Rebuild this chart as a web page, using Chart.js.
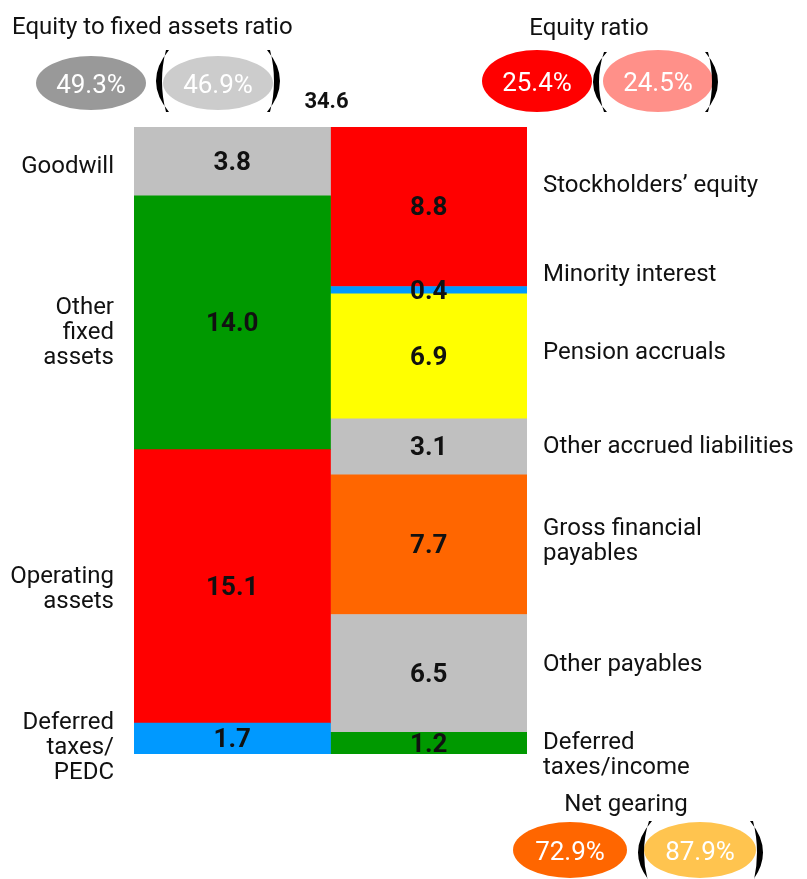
<!DOCTYPE html>
<html>
<head>
<meta charset="utf-8">
<script src="https://cdn.jsdelivr.net/npm/chart.js@4"></script>
<style>
html, body { margin: 0; padding: 0; background: #fff; }
#wrap { width: 807px; height: 879px; position: relative; }
</style>
</head>
<body>
<div id="wrap"><canvas id="myChart" width="807" height="879"></canvas></div>
<script>
// assets side, listed top to bottom
const assetLabels = [['Goodwill'], ['Other', 'fixed', 'assets'], ['Operating', 'assets'], ['Deferred', 'taxes/', 'PEDC']];
const assetValues = [3.8, 14.0, 15.1, 1.7];
const assetColors = ['#c0c0c0', '#009900', '#ff0000', '#0099ff'];

// equity & liabilities side, listed top to bottom
const liabLabels = [['Stockholders\u2019 equity'], ['Minority interest'], ['Pension accruals'], ['Other accrued liabilities'],
  ['Gross financial', 'payables'], ['Other payables'], ['Deferred', 'taxes/income']];
const liabValues = [8.8, 0.4, 6.9, 3.1, 7.7, 6.5, 1.2];
const liabColors = ['#ff0000', '#0099ff', '#ffff00', '#c0c0c0', '#ff6600', '#c0c0c0', '#009900'];

// label nudge in px from the segment centre
const assetLabelShift = [4, 8, 1, 7];
const liabLabelShift = [-23, -17, -5, -2, -5, -10, 10];

// ratios: this year and (last year)
const ratioTitles = ['Equity to fixed assets ratio', 'Equity ratio', 'Net gearing'];
const ratioNow = [49.3, 25.4, 72.9];
const ratioPrev = [46.9, 24.5, 87.9];

const total = assetValues.reduce((a, b) => a + b, 0);

const datasets = [];
for (let i = assetValues.length - 1; i >= 0; i--) {
  datasets.push({ label: assetLabels[i].join(' '), data: [assetValues[i], null], backgroundColor: assetColors[i], side: 0, idx: i });
}
for (let i = liabValues.length - 1; i >= 0; i--) {
  datasets.push({ label: liabLabels[i].join(' '), data: [null, liabValues[i]], backgroundColor: liabColors[i], side: 1, idx: i });
}

// where the ratio bubbles sit
const bubbles = [
  { title: [12, 28, 'left'], now: [91, 83, 55, 27], prev: [218, 83, 55, 27], open: [156, 169], close: [267, 280], py: [50, 112], col: ['#999999', '#cccccc'] },
  { title: [589, 29, 'center'], now: [537, 81, 55, 31], prev: [658, 81, 55, 31], open: [593, 607], close: [705, 718], py: [52, 112], col: ['#ff0000', '#ff9089'] },
  { title: [626, 805, 'center'], now: [570, 850, 57, 28], prev: [700, 850, 56, 28], open: [638, 652], close: [750, 763], py: [821, 884], col: ['#ff6600', '#ffc44f'] }
];

// text sits a bit low in the original
const dy = 2;

function paren(ctx, x0, x1, y0, y1, open) {
  const ym = (y0 + y1) / 2;
  const t = 6;
  ctx.beginPath();
  if (open) {
    ctx.moveTo(x1, y0);
    ctx.quadraticCurveTo(2 * x0 - x1, ym, x1, y1);
    ctx.lineTo(x1 - 3, y1);
    ctx.quadraticCurveTo(2 * (x0 + t) - (x1 - 3), ym, x1 - 3, y0);
  } else {
    ctx.moveTo(x0, y0);
    ctx.quadraticCurveTo(2 * x1 - x0, ym, x0, y1);
    ctx.lineTo(x0 + 3, y1);
    ctx.quadraticCurveTo(2 * (x1 - t) - (x0 + 3), ym, x0 + 3, y0);
  }
  ctx.closePath();
  ctx.fill();
}

const labelPlugin = {
  id: 'labels',
  afterDatasetsDraw(chart) {
    const ctx = chart.ctx;
    ctx.save();
    chart.data.datasets.forEach((ds, di) => {
      const bar = chart.getDatasetMeta(di).data[ds.side];
      const cy = (bar.y + bar.base) / 2 + dy;
      const val = ds.data[ds.side];
      ctx.fillStyle = '#111';
      ctx.textBaseline = 'middle';
      ctx.textAlign = 'center';
      ctx.font = 'bold 26px Roboto';
      ctx.fillText(val.toFixed(1), bar.x, cy);

      const lines = ds.side === 0 ? assetLabels[ds.idx] : liabLabels[ds.idx];
      const shift = ds.side === 0 ? assetLabelShift[ds.idx] : liabLabelShift[ds.idx];
      const lx = ds.side === 0 ? chart.chartArea.left - 20 : chart.chartArea.right + 16;
      ctx.textAlign = ds.side === 0 ? 'right' : 'left';
      ctx.font = '24px Roboto';
      const lh = 25;
      lines.forEach((ln, k) => {
        ctx.fillText(ln, lx, cy + shift + (k - (lines.length - 1) / 2) * lh);
      });
    });

    // total above the bars
    const mid = (chart.chartArea.left + chart.chartArea.right) / 2;
    ctx.textAlign = 'center';
    ctx.font = 'bold 22px Roboto';
    ctx.fillText(total.toFixed(1), mid - 4, chart.chartArea.top - 25);

    // ratio bubbles
    bubbles.forEach((b, i) => {
      ctx.fillStyle = '#111';
      ctx.font = '24px Roboto';
      ctx.textAlign = b.title[2];
      ctx.fillText(ratioTitles[i], b.title[0], b.title[1]);

      [[b.now, ratioNow[i], b.col[0]], [b.prev, ratioPrev[i], b.col[1]]].forEach(([e, v, c]) => {
        ctx.fillStyle = c;
        ctx.beginPath();
        ctx.ellipse(e[0], e[1], e[2], e[3], 0, 0, Math.PI * 2);
        ctx.fill();
        ctx.fillStyle = '#fff';
        ctx.font = '26px Roboto';
        ctx.textAlign = 'center';
        ctx.fillText(v.toFixed(1) + '%', e[0], e[1] + dy + 1);
      });

      ctx.fillStyle = '#000';
      paren(ctx, b.open[0], b.open[1], b.py[0], b.py[1], true);
      paren(ctx, b.close[0], b.close[1], b.py[0], b.py[1], false);
    });
    ctx.restore();
  }
};

const config = {
  type: 'bar',
  data: { labels: ['Assets', 'Equity and liabilities'], datasets },
  options: {
    responsive: false,
    animation: false,
    layout: { padding: { left: 134, right: 280, top: 127, bottom: 125 } },
    datasets: { bar: { categoryPercentage: 1, barPercentage: 1, borderWidth: 0 } },
    scales: {
      x: { display: false, stacked: true },
      y: { display: false, stacked: true, min: 0, max: total }
    },
    plugins: { legend: { display: false }, tooltip: { enabled: false } }
  },
  plugins: [labelPlugin]
};

const myChart = new Chart(document.getElementById('myChart'), config);
</script>
</body>
</html>
